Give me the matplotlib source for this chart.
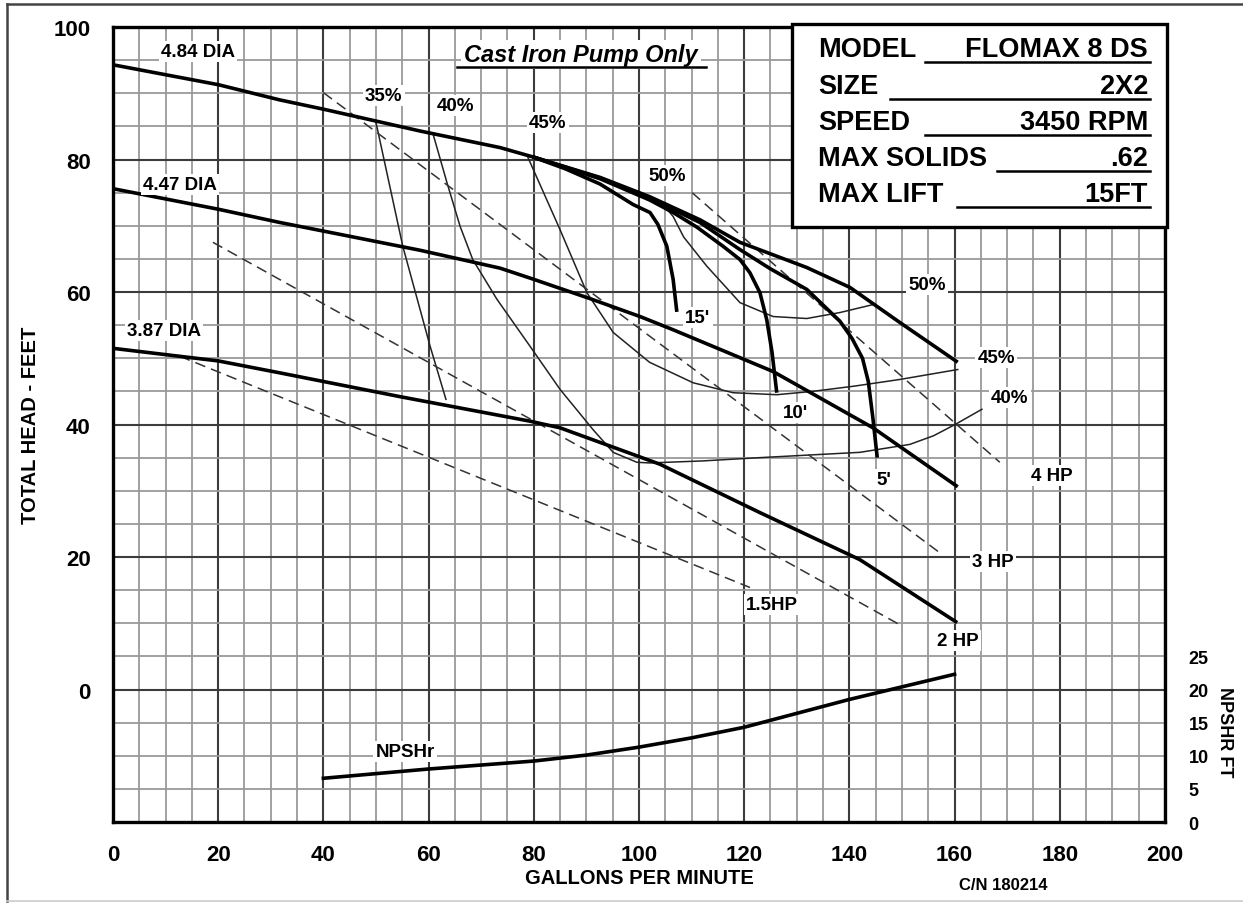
import matplotlib
matplotlib.use("Agg")
import matplotlib.pyplot as plt
from matplotlib.patches import Rectangle
from matplotlib.lines import Line2D

plt.rcParams['font.family'] = ['Liberation Sans', 'DejaVu Sans']
plt.rcParams['font.weight'] = 'bold'

# impeller diameter curves (gpm, total head ft)
dia_484_x = [0, 20, 31.7, 40, 58.4, 73.6, 79.8, 92.6, 102, 111.6, 119.2, 131.9, 140.1, 149.6, 160.6]
dia_484_y = [94.3, 91.3, 89.0, 87.6, 84.3, 81.8, 80.4, 77.3, 74.4, 70.9, 67.5, 63.7, 60.7, 55.4, 49.4]
dia_447_x = [0, 20, 31.7, 40, 58.4, 73.6, 79.3, 90.7, 100.2, 106.5, 125.5, 144.5, 160.6]
dia_447_y = [75.6, 72.5, 70.5, 69.2, 66.3, 63.6, 62.1, 59.0, 56.3, 54.3, 48.0, 39.5, 30.6]
dia_387_x = [0, 20, 31.7, 54.6, 79.3, 85, 104, 123, 142, 160.5]
dia_387_y = [51.5, 49.6, 47.8, 44.2, 40.5, 39.5, 34.0, 26.7, 19.6, 10.1]

# max lift curves
lift_15_x = [79.8, 86, 92.6, 98.9, 102.1, 103.6, 105.3, 106.5, 107.2]
lift_15_y = [80.4, 78.6, 76.3, 73.2, 72.0, 70.2, 66.9, 61.9, 57.0]
lift_10_x = [79.8, 92.6, 102, 106.5, 111, 116, 119.2, 121.1, 123, 124.3, 125.3, 126.2]
lift_10_y = [80.4, 77.1, 73.9, 72.0, 69.8, 66.9, 64.9, 62.9, 59.9, 55.8, 50.9, 44.8]
lift_5_x = [79.8, 92.6, 102, 111.6, 119.2, 125, 131.9, 138.2, 140.5, 142.5, 143.6, 144.5, 145.3]
lift_5_y = [80.4, 77.2, 74.2, 70.5, 66.4, 63.5, 60.4, 55.6, 53.0, 50.0, 46.5, 40.8, 35.0]

# efficiency curves
eff_35_x = [50, 55.1, 60.3, 63.3]
eff_35_y = [85.6, 66.9, 51.8, 43.8]
eff_40_x = [60.8, 63.5, 66, 68.4, 73, 79.3, 85, 91.3, 95.1, 99.6, 102, 112, 123, 142, 151.5, 156, 160.1, 165.2]
eff_40_y = [84.0, 76.5, 69.9, 64.9, 58.9, 51.8, 45.3, 39.2, 35.8, 34.3, 34.2, 34.5, 35.0, 35.8, 37.0, 38.3, 40.0, 42.3]
eff_45_x = [78.9, 85, 90.1, 95.1, 102, 110.3, 117.9, 126.2, 133, 141, 149.6, 160.6]
eff_45_y = [80.3, 69.4, 59.9, 53.9, 49.4, 46.3, 44.8, 44.5, 45.0, 45.8, 46.8, 48.3]
eff_50_x = [104.5, 106.5, 108.5, 112.9, 119.2, 125.5, 131.9, 138.2, 144.5]
eff_50_y = [73.3, 71.4, 68.3, 63.9, 58.4, 56.3, 56.0, 56.9, 58.1]

# horsepower lines
hp_15_x = [12.7, 121.1]
hp_15_y = [50.3, 15.4]
hp_2_x = [19, 150.2]
hp_2_y = [67.5, 9.5]
hp_3_x = [40, 157.6]
hp_3_y = [90.1, 20.4]
hp_4_x = [110.1, 168.6]
hp_4_y = [75.0, 34.3]

# NPSH required (ft)
npsh_x = [40, 50, 60, 70, 80, 90, 100, 110, 120, 130, 140, 150, 160]
npsh_y = [6.6, 7.3, 8.0, 8.6, 9.2, 10.1, 11.3, 12.7, 14.3, 16.4, 18.5, 20.4, 22.3]

x_ticks = list(range(0, 201, 20))
y_ticks = [0, 20, 40, 60, 80, 100]
npsh_ticks = [0, 5, 10, 15, 20, 25]

info_rows = [("MODEL", "FLOMAX 8 DS"), ("SIZE", "2X2"), ("SPEED", "3450 RPM"),
             ("MAX SOLIDS", ".62"), ("MAX LIFT", "15FT")]

fig = plt.figure(figsize=(12.43, 9.04), dpi=100)
ax = fig.add_axes([0.0909, 0.0896, 0.8463, 0.8794])
ax.set_xlim(0, 200)
ax.set_ylim(-20, 100)

# grid
ax.set_xticks(x_ticks)
ax.set_yticks(y_ticks)
ax.set_xticks(range(0, 201, 5), minor=True)
ax.set_yticks(range(-20, 101, 5), minor=True)
ax.grid(which='minor', color='#9a9a9a', lw=1.3, zorder=0)
ax.grid(which='major', color='#3c3c3c', lw=1.5, zorder=0)
ax.set_axisbelow(True)
ax.tick_params(which='both', length=0)
ax.tick_params(axis='y', pad=16, labelsize=16)
ax.tick_params(axis='x', pad=16, labelsize=16)
for s in ax.spines.values():
    s.set_linewidth(2.4)
    s.set_color('black')

thick = dict(color='black', lw=2.6, solid_capstyle='butt', zorder=4)
thin = dict(color='#222222', lw=1.1, zorder=3)
dash = dict(color='#333333', lw=1.1, dashes=(7, 4), zorder=3)

ax.plot(dia_484_x, dia_484_y, **thick)
ax.plot(dia_447_x, dia_447_y, **thick)
ax.plot(dia_387_x, dia_387_y, **thick)
ax.plot(lift_15_x, lift_15_y, **thick)
ax.plot(lift_10_x, lift_10_y, **thick)
ax.plot(lift_5_x, lift_5_y, **thick)

ax.plot(eff_35_x, eff_35_y, **thin)
ax.plot(eff_40_x, eff_40_y, **thin)
ax.plot(eff_45_x, eff_45_y, **thin)
ax.plot(eff_50_x, eff_50_y, **thin)

ax.plot(hp_15_x, hp_15_y, **dash)
ax.plot(hp_2_x, hp_2_y, **dash)
ax.plot(hp_3_x, hp_3_y, **dash)
ax.plot(hp_4_x, hp_4_y, **dash)

box = dict(facecolor='white', edgecolor='none', pad=1.5)
labels = [
    ("4.84 DIA", 16.2, 96.3), ("4.47 DIA", 12.7, 76.2), ("3.87 DIA", 9.7, 54.2),
    ("35%", 51.5, 89.7), ("40%", 65.2, 88.2), ("45%", 82.7, 85.6), ("50%", 105.3, 77.6),
    ("15'", 111.2, 56.2), ("10'", 129.7, 41.8), ("5'", 146.6, 31.7),
    ("50%", 154.8, 61.1), ("45%", 167.9, 50.1), ("40%", 170.5, 44.1),
    ("4 HP", 178.5, 32.3), ("3 HP", 167.3, 19.3), ("1.5HP", 125.3, 12.8), ("2 HP", 160.6, 7.4),
    ("NPSHr", 55.5, -9.4),
]
for txt, lx, ly in labels:
    ax.text(lx, ly, txt, fontsize=13.5, fontweight='bold', ha='center', va='center',
            bbox=box, zorder=5)

ax.text(89, 95.9, "Cast Iron Pump Only", fontsize=17, fontweight='bold', style='italic',
        ha='center', va='center', bbox=dict(facecolor='white', edgecolor='none', pad=2), zorder=5)
fig.add_artist(Line2D([457 / 1243, 706 / 1243], [1 - 68 / 904, 1 - 68 / 904], color='black', lw=1.8))

ax.set_ylabel("TOTAL HEAD - FEET", fontsize=14.5, fontweight='bold')
ax.yaxis.set_label_coords(-0.069, 0.5)
ax.set_xlabel("GALLONS PER MINUTE", fontsize=14.5, fontweight='bold')
ax.xaxis.set_label_coords(0.5, -0.058)

# NPSH axis on the right
ax2 = ax.twinx()
ax2.set_ylim(0, 120)
ax2.set_yticks(npsh_ticks)
ax2.tick_params(length=0, pad=17, labelsize=13)
for s in ax2.spines.values():
    s.set_visible(False)
ax2.plot(npsh_x, npsh_y, color='black', lw=2.6, zorder=4)
fig.text(0.985, 0.19, "NPSHR FT", rotation=-90, fontsize=13, fontweight='bold',
         ha='center', va='center')
fig.text(0.807, 0.021, "C/N 180214", fontsize=12, fontweight='bold', ha='center', va='center')

# info box
fig.add_artist(Rectangle((792 / 1243, 1 - 228 / 904), 375 / 1243, 203 / 904,
                         transform=fig.transFigure, facecolor='white', edgecolor='black', lw=2.4))
row_y = [50, 87, 123, 159, 195]
line_x0 = [925, 890, 925, 997, 957]
for (key, val), ry, lx0 in zip(info_rows, row_y, line_x0):
    fig.text(818 / 1243, 1 - ry / 904, key, fontsize=19.5, fontweight='bold', ha='left', va='center')
    fig.text(1148 / 1243, 1 - ry / 904, val, fontsize=19.5, fontweight='bold', ha='right', va='center')
    uy = 1 - (ry + 13) / 904
    fig.add_artist(Line2D([lx0 / 1243, 1150 / 1243], [uy, uy], color='black', lw=1.8))

# outer frame
fig.add_artist(Line2D([7 / 1243, 7 / 1243], [0.002, 1 - 5 / 904], color='#444444', lw=1.8))
fig.add_artist(Line2D([7 / 1243, 1.0], [1 - 5 / 904, 1 - 5 / 904], color='#444444', lw=1.8))
fig.add_artist(Line2D([7 / 1243, 1.0], [0.002, 0.002], color='#cccccc', lw=1.2))

fig.savefig("out.png", dpi=100)
